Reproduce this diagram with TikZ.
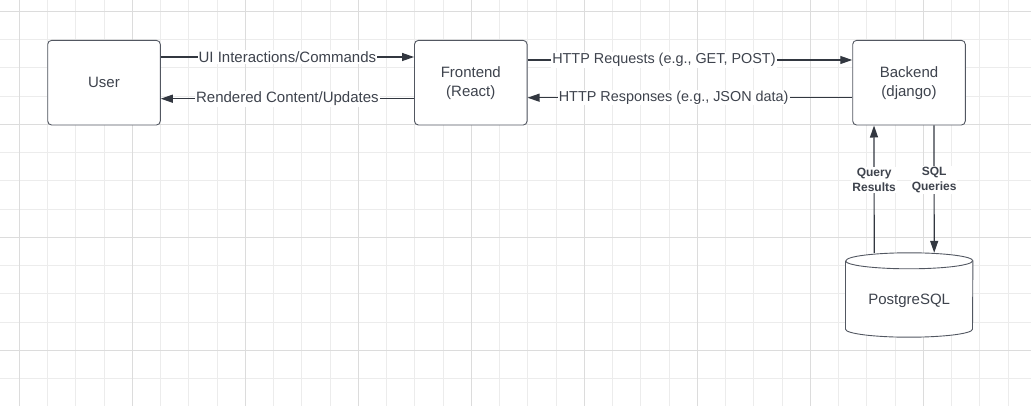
\documentclass[tikz,border=0pt]{standalone}
\usepackage{fontspec}
\setmainfont{Liberation Sans}
\usetikzlibrary{arrows.meta, positioning, calc}
\definecolor{gridminor}{RGB}{236, 236, 236}
\definecolor{gridmajor}{RGB}{220, 220, 220}
\definecolor{boxline}{RGB}{82, 87, 97}
\definecolor{textgray}{RGB}{62, 67, 77}
\definecolor{linedark}{RGB}{50, 55, 64}

\tikzset{
  box/.style={draw=boxline, line width=0.9pt, rounded corners=4pt, fill=white, minimum width=112.6pt, minimum height=84.7pt, align=center, text=textgray, font=\fontsize{15}{19}\selectfont},
  flow/.style={draw=linedark, line width=1.2pt, -{Triangle[length=12pt, width=8pt]}},
  flowlabel/.style={fill=white, inner sep=1pt, text=textgray, font=\fontsize{15}{18}\selectfont},
  httplabel/.style={flowlabel, font=\fontsize{14.4}{18}\selectfont},
  querylabel/.style={fill=white, inner sep=1pt, align=center, text=textgray, font=\bfseries\fontsize{12}{15}\selectfont},
  dbline/.style={draw=boxline, line width=0.9pt, fill=white},
}

\begin{document}
\begin{tikzpicture}[x=1pt, y=-1pt]
  \useasboundingbox (0, 0) rectangle (1031, 406);

  % Background grid
  \foreach \k in {0,...,35}
    \draw[gridminor, line width=0.8pt] ({19.3+28.25*\k}, 0) -- ++(0, 406);
  \foreach \k in {0,...,13}
    \draw[gridminor, line width=0.8pt] (0, {11.3+28.25*\k}) -- ++(1031, 0);
  \foreach \k in {0,...,8}
    \draw[gridmajor, line width=0.9pt] ({19.3+113*\k}, 0) -- ++(0, 406);
  \foreach \k in {0,...,3}
    \draw[gridmajor, line width=0.9pt] (0, {11.3+113*\k}) -- ++(1031, 0);

  % Components
  \node[box] (User) at (104, 82.7) {User};
  \node[box] (Frontend) at (470.8, 82.7) {Frontend\\(React)};
  \node[box] (Backend) at (909, 82.7) {Backend\\(django)};

  % Database cylinder
  \node[minimum width=127pt, minimum height=84pt, inner sep=0pt] (DB) at (909.2, 295) {};
  \draw[dbline] ([yshift=-8pt]DB.north west) -- ([yshift=8pt]DB.south west)
    arc[start angle=180, end angle=360, x radius=63.5pt, y radius=8pt]
    -- ([yshift=-8pt]DB.north east)
    arc[start angle=0, end angle=180, x radius=63.5pt, y radius=8pt];
  \draw[dbline, fill=none] ([yshift=-8pt]DB.north west)
    arc[start angle=180, end angle=360, x radius=63.5pt, y radius=8pt];
  \node[text=textgray, font=\fontsize{15}{18}\selectfont] (DBname) at ([yshift=-6pt]DB.center) {PostgreSQL};

  % User <-> Frontend
  \draw[flow] ([yshift=25.7pt]User.east) -- node[flowlabel] {UI Interactions/Commands} ([yshift=25.7pt]Frontend.west);
  \draw[flow] ([yshift=-16pt]Frontend.west) -- node[flowlabel] {Rendered Content/Updates} ([yshift=-16pt]User.east);

  % Frontend <-> Backend
  \draw[flow] ([yshift=22.7pt]Frontend.east) -- node[httplabel, pos=0.42] {HTTP Requests (e.g., GET, POST)} ([yshift=22.7pt]Backend.west);
  \draw[flow] ([yshift=-15pt]Backend.west) -- node[httplabel, pos=0.55] {HTTP Responses (e.g., JSON data)} ([yshift=-15pt]Frontend.east);

  % Backend <-> Database
  \draw[flow] ([xshift=-35pt]DB.north) -- node[querylabel, pos=0.57] {Query\\Results} ([xshift=-35pt]Backend.south);
  \draw[flow] ([xshift=25pt]Backend.south) -- node[querylabel, pos=0.43] {SQL\\Queries} ([xshift=25pt]DB.north);
\end{tikzpicture}
\end{document}
